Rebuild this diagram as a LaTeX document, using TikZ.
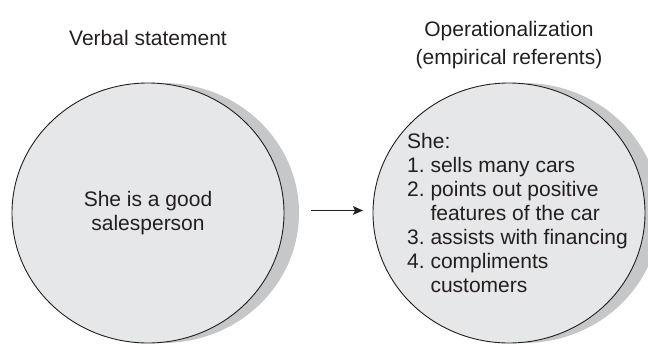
\documentclass[tikz,border=0pt]{standalone}
\usepackage{fontspec}
\setmainfont{Liberation Sans}
\usetikzlibrary{shapes.geometric,arrows.meta,shadows}
\definecolor{blobfill}{HTML}{E6E7E8}
\definecolor{blobshadow}{HTML}{C6C7C9}
\definecolor{ink}{HTML}{231F20}
\begin{document}
\begin{tikzpicture}[x=1pt,y=-1pt,
  every node/.style={font=\fontsize{21}{24}\selectfont, text=ink, inner sep=0pt},
  blob/.style={ellipse, draw=ink, line width=0.9pt, fill=blobfill,
    minimum width=272pt, minimum height=260pt, align=center,
    drop shadow={shadow xshift=15pt, shadow yshift=0pt, fill=blobshadow, opacity=1}},
  heading/.style={anchor=base, font=\fontsize{21}{24}\selectfont},
  conn/.style={draw=ink, line width=1.8pt, -{Stealth[length=10pt, width=8.5pt, inset=2pt]}}]
\useasboundingbox (0,0) rectangle (648,345);
\clip (0,0) rectangle (648,345);
% headings
\node[heading] (hL) at (148,46) {Verbal statement};
\node[heading] (hR1) at (509,37) {Operationalization};
\node[heading] (hR2) at (509,65) {(empirical referents)};
% ellipses
\node[blob] (L) at (148,213) {She is a good\\salesperson};
\node[blob] (R) at (509,213) {};
\node[anchor=base west] (Rt) at (407,148) {%
  \begin{tabular}[t]{@{}l@{\ }l@{}}
  \multicolumn{2}{@{}l@{}}{She:}\\
  1. & sells many cars\\
  2. & points out positive\\
     & features of the car\\
  3. & assists with financing\\
  4. & compliments\\
     & customers
  \end{tabular}};
% connector
\draw[conn] ([xshift=26.5pt,yshift=2.5pt]L.east) -- ([xshift=-9.5pt,yshift=2.5pt]R.west);
\end{tikzpicture}
\end{document}
